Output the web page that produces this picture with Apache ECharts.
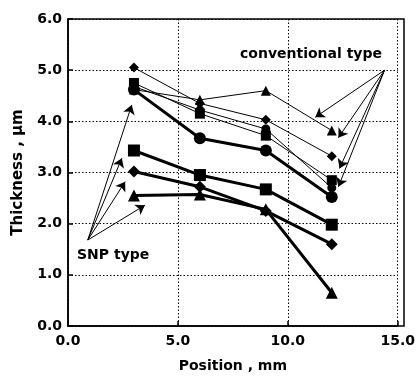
<!DOCTYPE html>
<html><head><meta charset="utf-8">
<script src="https://cdn.jsdelivr.net/npm/echarts@6/dist/echarts.min.js"></script>
<style>html,body{margin:0;padding:0;background:#fff}#c{width:418px;height:380px}</style>
</head><body><div id="c"></div>
<script>
const positions = [3, 6, 9, 12];
// conventional type (thin lines)
const convDiamond  = [5.05, 4.35, 4.03, 3.32];
const convTriangle = [4.62, 4.42, 4.60, 3.82];
const convSquare   = [4.75, 4.15, 3.72, 2.85];
const convCircle   = [4.68, 4.22, 3.85, 2.70];
// SNP type (thick lines)
const snpCircle    = [4.62, 3.67, 3.43, 2.52];
const snpSquare    = [3.43, 2.95, 2.67, 1.98];
const snpDiamond   = [3.02, 2.72, 2.25, 1.60];
const snpTriangle  = [2.55, 2.57, 2.28, 0.65];
const yTicks = ['0.0','1.0','2.0','3.0','4.0','5.0','6.0'];
const xTicks = ['0.0','5.0','10.0','15.0'];
// annotation arrows [from, to]
const snpArrows = [
  [[0.9,1.68],[2.9,4.32]],
  [[0.9,1.68],[2.45,3.28]],
  [[0.9,1.68],[2.6,2.82]],
  [[0.9,1.68],[3.5,2.36]]
];
const convArrows = [
  [[14.4,5.0],[11.25,4.08]],
  [[14.4,5.0],[12.3,3.68]],
  [[14.4,5.0],[12.35,3.08]],
  [[14.4,5.0],[12.3,2.72]]
];

const chart = echarts.init(document.getElementById('c'));
const font = 'DejaVu Sans';
function ser(data, symbol, thick, size) {
  return {
    type: 'line',
    data: positions.map((x, i) => [x, data[i]]),
    symbol: symbol,
    symbolSize: size,
    showAllSymbol: true,
    lineStyle: {color: '#000', width: thick ? 3 : 1},
    itemStyle: {color: '#000'},
    z: thick ? 3 : 2,
    animation: false
  };
}
function arrows(list) {
  return {
    type: 'lines',
    coordinateSystem: 'cartesian2d',
    data: list.map(a => ({coords: a})),
    symbol: ['none', 'arrow'],
    symbolSize: 9,
    lineStyle: {color: '#000', width: 1, opacity: 1},
    z: 4,
    animation: false
  };
}
chart.setOption({
  animation: false,
  grid: {left: 68, right: 14, top: 19, bottom: 54},
  xAxis: {
    type: 'value', min: 0, max: 15, interval: 5,
    axisLine: {show: true, lineStyle: {color: '#000', width: 1.5}},
    axisTick: {show: true, inside: true, length: 5, lineStyle: {color: '#000', width: 1.5}},
    axisLabel: {color: '#000', fontFamily: font, fontWeight: 'bold', fontSize: 14, margin: 8,
      formatter: v => xTicks[Math.round(v / 5)]},
    splitLine: {show: true, lineStyle: {color: '#000', type: [1.5, 2], width: 1}},
    name: 'Position , mm', nameLocation: 'middle', nameGap: 33,
    nameTextStyle: {color: '#000', fontFamily: font, fontWeight: 'bold', fontSize: 14}
  },
  yAxis: {
    type: 'value', min: 0, max: 6, interval: 1,
    axisLine: {show: true, lineStyle: {color: '#000', width: 1.5}},
    axisTick: {show: true, inside: true, length: 5, lineStyle: {color: '#000', width: 1.5}},
    axisLabel: {color: '#000', fontFamily: font, fontWeight: 'bold', fontSize: 14, margin: 6,
      formatter: v => yTicks[Math.round(v)]},
    splitLine: {show: true, lineStyle: {color: '#000', type: [1.5, 2], width: 1}},
    name: 'Thickness , µm', nameLocation: 'middle', nameGap: 42,
    nameTextStyle: {color: '#000', fontFamily: font, fontWeight: 'bold', fontSize: 15}
  },
  graphic: [
    {type: 'rect', shape: {x: 68, y: 19, width: 336, height: 307}, style: {fill: 'none', stroke: '#000', lineWidth: 1.5}, z: 10, silent: true},
    {type: 'text', left: 240, top: 47, style: {text: 'conventional type', font: 'bold 14px "DejaVu Sans"', fill: '#000'}, z: 10},
    {type: 'text', left: 77, top: 248, style: {text: 'SNP type', font: 'bold 14px "DejaVu Sans"', fill: '#000'}, z: 10}
  ],
  series: [
    ser(convDiamond, 'diamond', false, 10),
    ser(convTriangle, 'triangle', false, 10),
    ser(convSquare, 'rect', false, 10),
    ser(convCircle, 'circle', false, 9),
    ser(snpCircle, 'circle', true, 12),
    ser(snpSquare, 'rect', true, 12),
    ser(snpDiamond, 'diamond', true, 12),
    ser(snpTriangle, 'triangle', true, 12),
    arrows(snpArrows),
    arrows(convArrows)
  ]
});
</script></body></html>
